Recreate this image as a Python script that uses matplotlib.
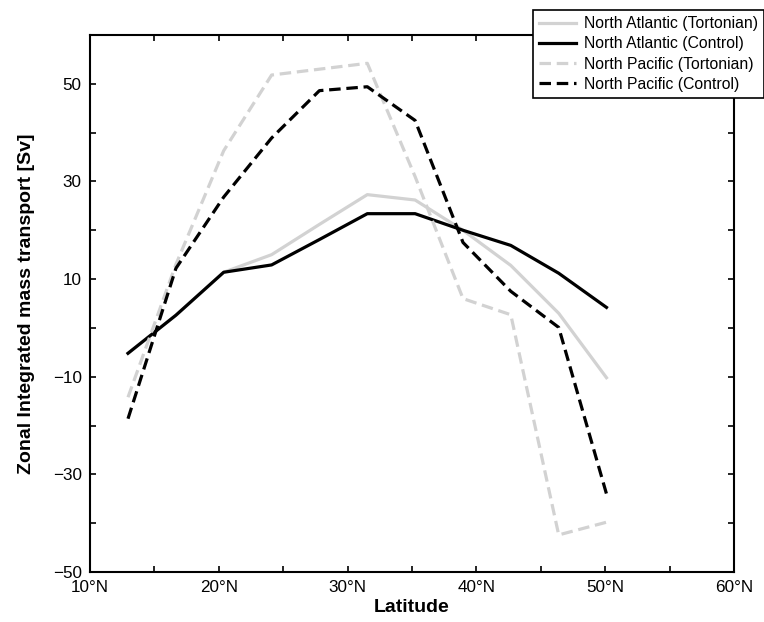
import matplotlib
matplotlib.use('Agg')
import matplotlib.pyplot as plt
from matplotlib.ticker import MultipleLocator, FuncFormatter

plt.rcParams['font.family'] = ['Liberation Sans', 'DejaVu Sans']

# latitude of the model grid points (deg N)
lat = [12.95, 16.67, 20.38, 24.10, 27.81, 31.53, 35.24, 38.96, 42.67, 46.39, 50.10]

# zonal integrated mass transport [Sv]
na_tortonian = [-5.2, 2.6, 11.4, 15.0, 21.2, 27.3, 26.2, 20.0, 12.8, 3.0, -10.2]
na_control = [-5.2, 2.6, 11.4, 12.9, 18.1, 23.4, 23.4, 20.0, 16.9, 11.2, 4.2]
np_tortonian = [-14.2, 13.0, 36.3, 51.8, 53.0, 54.2, 31.0, 6.0, 2.7, -42.4, -39.8]
np_control = [-18.6, 12.2, 26.8, 38.9, 48.6, 49.4, 42.5, 17.5, 7.5, 0.1, -34.0]

labels = ['North Atlantic (Tortonian)', 'North Atlantic (Control)',
          'North Pacific (Tortonian)', 'North Pacific (Control)']

fig = plt.figure(figsize=(7.64, 6.22), dpi=100)
ax = fig.add_axes([90/764, 1 - 572/622, 644/764, 537/622])

grey = '#d2d2d2'
dash = (0, (3.6, 1.8))
ax.plot(lat, na_tortonian, color=grey, lw=2.3, label=labels[0])
ax.plot(lat, na_control, color='black', lw=2.3, label=labels[1])
ax.plot(lat, np_tortonian, color=grey, lw=2.3, ls=dash, label=labels[2])
ax.plot(lat, np_control, color='black', lw=2.3, ls=dash, label=labels[3])

ax.set_xlim(10, 60)
ax.set_ylim(-50, 60)
ax.xaxis.set_major_locator(MultipleLocator(10))
ax.xaxis.set_minor_locator(MultipleLocator(5))
ax.xaxis.set_major_formatter(FuncFormatter(lambda v, p: f'{v:.0f}°N'))
ax.set_yticks(range(-50, 61, 10))
ax.set_yticklabels([f'{v:d}'.replace('-', '\u2212') if v % 20 != 0 else ''
                    for v in range(-50, 61, 10)])
ax.tick_params(which='both', direction='in', top=True, right=True,
               labelsize=12.3, width=1.2, length=4.5, pad=6)
for s in ax.spines.values():
    s.set_linewidth(1.5)

ax.set_xlabel('Latitude', fontsize=14, fontweight='bold', labelpad=3)
ax.set_ylabel('Zonal Integrated mass transport [Sv]', fontsize=14,
              fontweight='bold', labelpad=13)

leg = fig.legend(loc='upper left', bbox_to_anchor=(533/764, 1 - 10/622),
                 fontsize=11.3, handlelength=2.35, handletextpad=0.5,
                 labelspacing=0.33, borderpad=0.4, fancybox=False,
                 framealpha=1, edgecolor='black', borderaxespad=0)
leg.get_frame().set_linewidth(1.2)

fig.savefig('out.png', dpi=100)
